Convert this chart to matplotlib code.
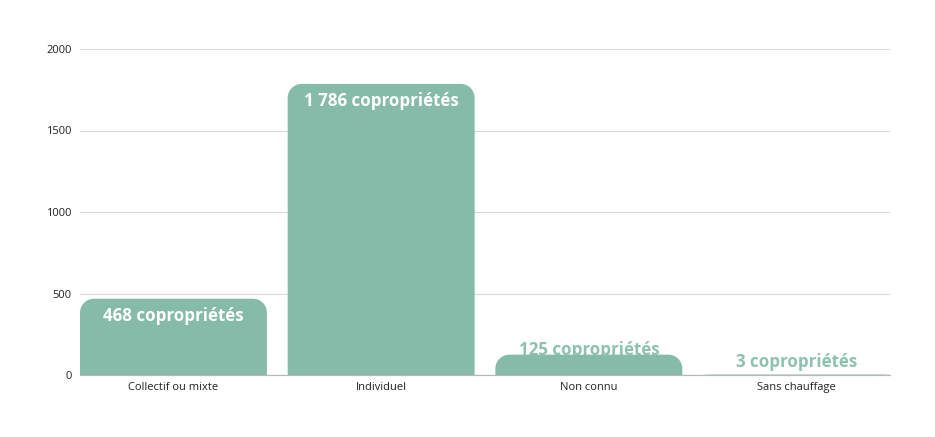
import matplotlib
matplotlib.use("Agg")
import matplotlib.pyplot as plt
from matplotlib.path import Path
from matplotlib.patches import PathPatch

categories = ["Collectif ou mixte", "Individuel", "Non connu", "Sans chauffage"]
values = [468, 1786, 125, 3]
labels = ["468 copropriétés", "1 786 copropriétés", "125 copropriétés", "3 copropriétés"]

green = "#85bba8"

plt.rcParams['font.family'] = ['Open Sans', 'DejaVu Sans']

w = 0.9
fig = plt.figure(figsize=(9.35, 4.37), dpi=100)
ax = fig.add_axes([80/935, 62/437, 810/935, 326/437])
ax.set_xlim(-w/2, 3 + w/2)
ax.set_ylim(0, 2000)

# pixel -> data scale for the rounded corners
px_x = 810 / (3 + w)
px_y = 326 / 2000.0
r_px = 14


def top_round_bar(xc, h):
    rx = r_px / px_x
    ry = min(r_px / px_y, h)
    x0, x1 = xc - w/2, xc + w/2
    k = 0.5523
    verts = [(x0, 0), (x0, h - ry),
             (x0, h - ry + k*ry), (x0 + rx - k*rx, h), (x0 + rx, h),
             (x1 - rx, h),
             (x1 - rx + k*rx, h), (x1, h - ry + k*ry), (x1, h - ry),
             (x1, 0), (x0, 0)]
    codes = [Path.MOVETO, Path.LINETO,
             Path.CURVE4, Path.CURVE4, Path.CURVE4,
             Path.LINETO,
             Path.CURVE4, Path.CURVE4, Path.CURVE4,
             Path.LINETO, Path.CLOSEPOLY]
    return PathPatch(Path(verts, codes), facecolor=green, edgecolor='none', zorder=3)


for i, (v, lab) in enumerate(zip(values, labels)):
    ax.add_patch(top_round_bar(i, v))
    if v > 300:
        ax.annotate(lab, (i, v), xytext=(0, -12.5), textcoords='offset points',
                    ha='center', va='center', color='white', fontsize=12.2,
                    fontweight='bold', zorder=4)
    else:
        ax.annotate(lab, (i, max(v, 0)), xytext=(0, 9) if v < 50 else (0, 3.5),
                    textcoords='offset points', ha='center', va='center',
                    color="#8cc2ae", fontsize=12.2, fontweight='bold', zorder=2)

ax.set_yticks([0, 500, 1000, 1500, 2000])
ax.set_yticklabels(["0", "500", "1000", "1500", "2000"])
ax.set_xticks(range(len(categories)))
ax.set_xticklabels(categories)
ax.tick_params(length=0, labelsize=8, colors='#222222')
ax.tick_params(axis='y', pad=6)
ax.tick_params(axis='x', pad=5)
ax.grid(axis='y', color='#d9d9d9', linewidth=0.8, zorder=0)
ax.set_axisbelow(True)
for s in ['top', 'right', 'left']:
    ax.spines[s].set_visible(False)
ax.spines['bottom'].set_color('#b8b8b8')
ax.spines['bottom'].set_linewidth(0.9)
ax.spines['bottom'].set_zorder(5)

fig.savefig("out.png", dpi=100)
